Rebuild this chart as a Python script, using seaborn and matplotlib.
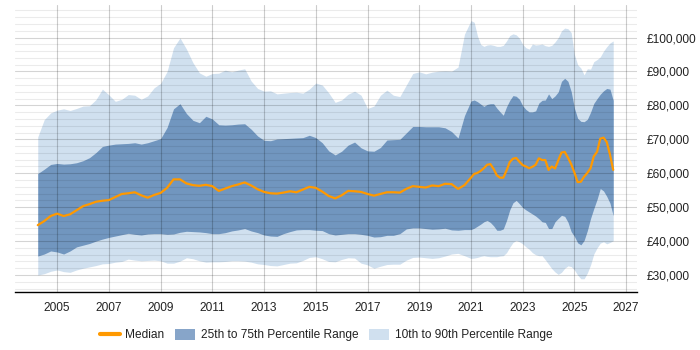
import numpy as np
import pandas as pd
import matplotlib
matplotlib.use("Agg")
import matplotlib.pyplot as plt
from matplotlib.ticker import MultipleLocator, FuncFormatter
from matplotlib.patches import Patch
from matplotlib.lines import Line2D
import seaborn as sns

# quarterly up to 2020.75, then every 1.5 months to mid 2026
dates = list(np.arange(2004.25, 2021.0, 0.25)) + list(np.arange(2021.0, 2026.51, 0.125))

# values in £ thousands
p90 = [70.7, 75.8, 77.8, 78.6, 79.0, 78.5, 79.1, 79.8, 79.9, 81.7, 84.8, 83.1, 81.2, 81.8, 83.2, 83.0, 81.8, 82.8, 85.2, 86.5, 90.0, 97.0,
       99.9, 96.6, 92.6, 89.6, 88.6, 89.4, 89.5, 90.4, 89.9, 90.4, 90.8, 87.2, 85.0, 84.2, 84.3, 83.4, 83.6, 83.8, 83.9, 83.6, 84.8, 86.6,
       86.0, 83.7, 80.9, 81.6, 83.3, 84.2, 83.0, 79.1, 79.8, 83.0, 84.5, 83.0, 82.6, 86.0, 89.4, 89.9, 89.3, 89.8, 90.1, 90.2, 90.1, 91.3, 101.0,
       105.0, 104.5, 100.5, 98.0, 97.4, 97.8, 97.9, 97.7, 97.4, 97.4, 97.7, 99.0, 100.6, 101.1, 100.8, 99.8, 98.0, 97.0, 96.6, 98.1,
       97.8, 97.9, 98.1, 97.6, 97.4, 97.7, 98.7, 100.0, 102.0, 102.8, 102.6, 101.5, 95.0, 92.0, 91.0, 89.0, 90.8, 90.7, 92.9, 93.5,
       94.3, 96.0, 97.3, 98.4, 99.0]

p75 = [59.9, 61.2, 62.6, 62.9, 62.7, 62.8, 63.1, 63.7, 64.6, 66.1, 67.9, 68.3, 68.6, 68.7, 68.8, 69.0, 68.6, 69.0, 69.6, 70.2, 73.5, 79.0,
       80.5, 77.6, 75.6, 74.9, 76.8, 76.0, 74.3, 74.2, 74.3, 74.5, 74.6, 73.0, 71.0, 69.7, 69.6, 70.1, 70.2, 70.3, 70.4, 70.5, 71.2, 70.5,
       69.0, 66.6, 65.4, 66.5, 68.3, 69.2, 67.5, 66.6, 66.5, 67.6, 69.8, 69.9, 70.0, 71.9, 73.8, 73.8, 73.7, 73.7, 73.7, 73.4, 72.3, 70.4, 77.0,
       81.3, 81.6, 81.1, 80.4, 79.7, 80.3, 80.5, 80.5, 79.2, 78.1, 77.1, 79.6, 81.5, 82.9, 82.7, 81.8, 79.9, 78.8, 78.1, 78.1,
       78.4, 80.7, 81.5, 81.6, 83.4, 82.0, 82.8, 84.0, 87.1, 88.0, 87.1, 84.1, 79.2, 76.2, 75.3, 75.2, 75.9, 78.0, 80.6, 82.0,
       83.3, 84.3, 85.0, 84.8, 81.5]

p25 = [35.6, 36.2, 37.1, 36.8, 36.2, 37.1, 38.3, 38.8, 39.3, 40.0, 40.6, 41.1, 41.5, 41.9, 42.3, 42.0, 41.8, 42.1, 42.2, 42.2, 42.0, 42.1,
       42.6, 42.9, 42.8, 42.7, 42.5, 42.2, 42.2, 42.5, 43.0, 43.3, 43.7, 43.0, 42.5, 41.8, 41.5, 41.4, 42.2, 42.8, 43.3, 43.4, 43.4, 43.2,
       43.1, 42.2, 41.8, 42.0, 42.2, 42.2, 42.0, 41.7, 41.2, 41.3, 41.7, 41.7, 42.2, 43.6, 43.9, 43.9, 43.7, 43.5, 43.6, 43.8, 43.3, 43.2, 43.4,
       43.4, 43.8, 44.4, 45.0, 45.7, 46.1, 45.5, 44.5, 43.2, 43.2, 43.6, 46.1, 49.2, 51.3, 52.0, 51.0, 49.9, 49.2, 48.6, 48.0,
       47.4, 46.6, 45.7, 45.5, 43.7, 43.7, 45.7, 46.7, 47.6, 47.3, 45.6, 42.8, 41.4, 39.5, 38.9, 40.2, 43.1, 46.7, 49.6, 52.3,
       55.5, 54.8, 53.2, 51.2, 47.5]

p10 = [30.0, 30.4, 31.1, 31.5, 31.0, 30.8, 31.5, 32.0, 32.4, 32.8, 33.3, 33.4, 33.8, 34.0, 34.7, 34.4, 34.2, 34.3, 34.4, 34.2, 33.5, 33.5,
       34.1, 35.1, 34.8, 34.2, 33.8, 33.9, 33.9, 34.0, 34.2, 34.2, 34.1, 33.8, 33.3, 33.1, 32.8, 32.7, 33.1, 33.5, 33.6, 34.3, 35.2, 35.4,
       34.8, 34.0, 33.9, 34.6, 35.1, 35.0, 33.5, 33.0, 32.0, 32.6, 33.1, 33.2, 33.2, 34.4, 35.2, 35.3, 35.1, 34.9, 35.1, 35.6, 36.2, 36.4, 35.7,
       34.9, 35.0, 35.2, 35.5, 35.7, 35.5, 35.4, 35.4, 35.4, 35.6, 35.7, 36.6, 38.2, 39.6, 40.2, 39.8, 39.2, 38.3, 37.6, 36.6,
       36.0, 35.7, 35.7, 34.5, 33.2, 31.9, 30.9, 30.2, 30.8, 32.0, 32.7, 32.5, 31.5, 30.0, 28.9, 28.9, 30.6, 33.0, 36.2, 38.0,
       39.4, 39.8, 39.2, 39.6, 40.1]

median = [44.7, 45.9, 47.4, 48.1, 47.4, 47.9, 49.1, 50.3, 50.9, 51.6, 51.9, 52.1, 53.0, 53.9, 54.1, 54.4, 53.5, 52.8, 53.6, 54.2, 55.7, 58.2,
          58.2, 57.0, 56.5, 56.3, 56.6, 56.2, 54.8, 55.5, 56.2, 56.7, 57.3, 56.4, 55.3, 54.5, 54.1, 54.0, 54.3, 54.7, 54.4, 55.2, 56.0, 55.7,
          54.6, 53.3, 52.6, 53.5, 54.8, 54.7, 54.5, 53.9, 53.4, 53.9, 54.4, 54.4, 54.3, 55.4, 56.2, 56.0, 55.8, 56.4, 56.2, 56.9, 56.8, 55.4, 56.5,
          58.7, 59.8, 60.1, 60.7, 61.5, 62.5, 62.7, 61.3, 59.4, 58.7, 58.7, 60.8, 63.3, 64.3, 64.5, 63.4, 62.4, 62.0, 61.5, 61.9,
          62.5, 64.4, 63.9, 63.9, 61.0, 62.0, 61.4, 63.8, 66.1, 66.3, 64.6, 62.7, 60.2, 57.4, 57.5, 59.0, 60.1, 61.5, 65.0, 66.3,
          70.2, 70.5, 69.2, 65.5, 61.0]

year_ticks = list(range(2005, 2028, 2))

df = pd.DataFrame({
    "year": dates,
    "p10": np.array(p10) * 1000,
    "p25": np.array(p25) * 1000,
    "median": np.array(median) * 1000,
    "p75": np.array(p75) * 1000,
    "p90": np.array(p90) * 1000,
})

light_blue = "#d0e0ef"
dark_blue = "#7196bf"
legend_blue = "#87a5c9"
orange = "#ff9900"

sns.set_style("white")
plt.rcParams['font.family'] = ['Liberation Sans', 'DejaVu Sans']

fig = plt.figure(figsize=(7, 3.5), dpi=100)
ax = fig.add_axes([15 / 700, 1 - 292 / 350, 622 / 700, 287 / 350])

ax.fill_between(df["year"], df["p10"], df["p90"], color=light_blue, lw=0, zorder=1)
ax.fill_between(df["year"], df["p25"], df["p75"], color=dark_blue, lw=0, zorder=1.2)
sns.lineplot(data=df, x="year", y="median", color=orange, lw=1.6, ax=ax, zorder=3, legend=False)

ax.set_xlim(2003.37, 2027.42)
ax.set_ylim(25000, 109600)
ax.set_xticks(year_ticks)
ax.yaxis.set_major_locator(MultipleLocator(10000))
ax.yaxis.set_minor_locator(MultipleLocator(2000))
ax.yaxis.set_major_formatter(FuncFormatter(lambda v, p: f"£{v:,.0f}"))
ax.yaxis.tick_right()

ax.set_axisbelow(False)
ax.grid(which="major", axis="y", color="black", alpha=0.17, lw=0.8)
ax.grid(which="minor", axis="y", color="black", alpha=0.08, lw=0.8)
ax.grid(which="major", axis="x", color="black", alpha=0.2, lw=0.8)

for side in ["left", "top", "right"]:
    ax.spines[side].set_visible(False)
ax.spines["bottom"].set_color("black")
ax.spines["bottom"].set_linewidth(1.0)

ax.tick_params(axis="y", which="both", length=0, pad=7, labelsize=8.6, labelcolor="#222222")
ax.tick_params(axis="x", length=3, width=0.8, color="#cccccc", pad=4, labelsize=8.6, labelcolor="#222222")
ax.set_xlabel("")
ax.set_ylabel("")

handles = [
    Line2D([0], [0], color=orange, lw=3),
    Patch(facecolor=legend_blue, edgecolor="none"),
    Patch(facecolor=light_blue, edgecolor="none"),
]
labels = ["Median", "25th to 75th Percentile Range", "10th to 90th Percentile Range"]
fig.legend(handles, labels, loc="center", bbox_to_anchor=(326 / 700, 1 - 335 / 350), ncol=3,
           frameon=False, fontsize=8.6, handlelength=1.7, handleheight=1.1, columnspacing=0.9,
           handletextpad=0.45, labelcolor="#222222")

fig.savefig("out.png", dpi=100)
